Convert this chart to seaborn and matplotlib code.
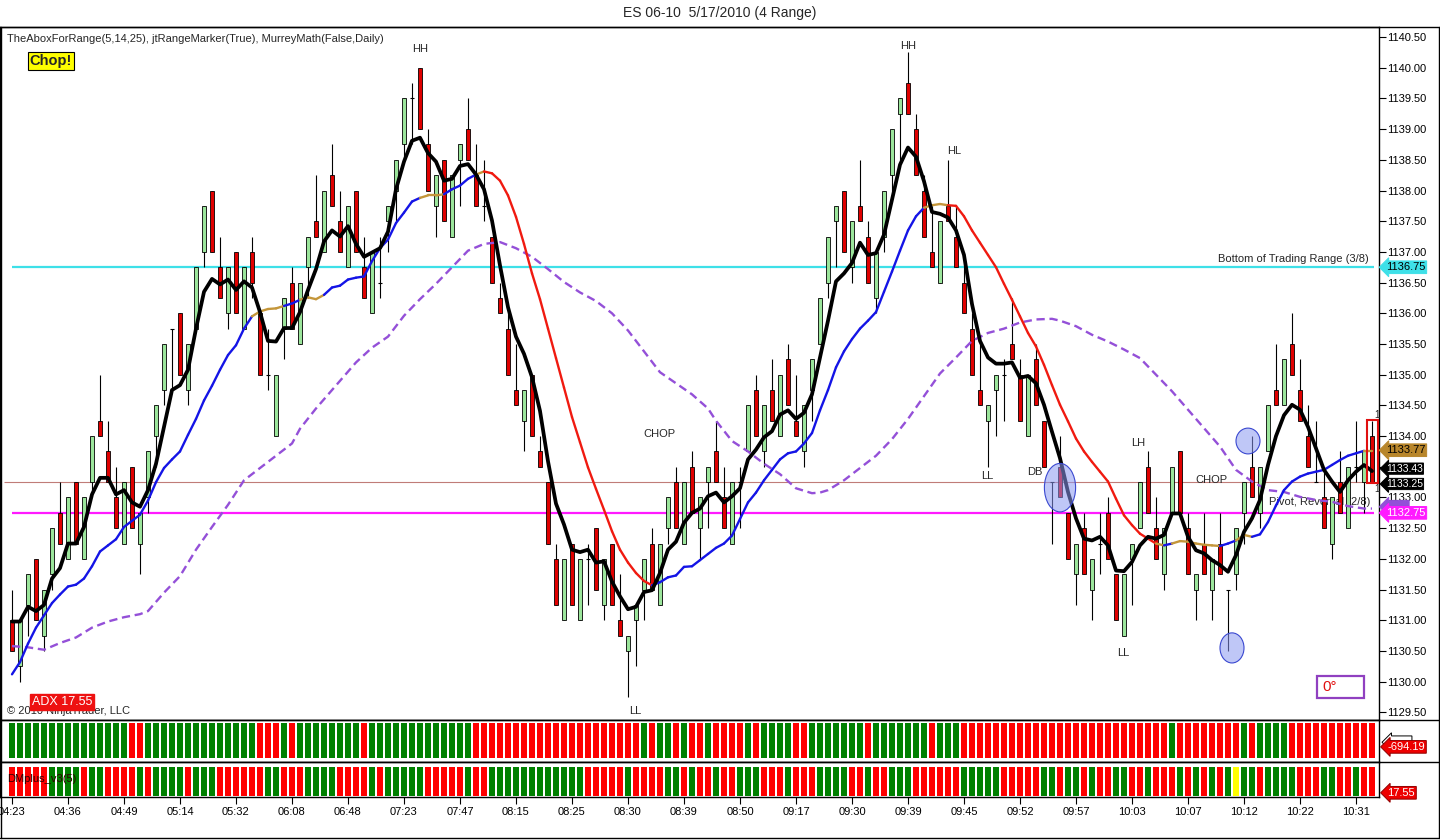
import numpy as np
import pandas as pd
import matplotlib
matplotlib.use("Agg")
import matplotlib.pyplot as plt
import seaborn as sns
from matplotlib.patches import Ellipse, Rectangle
from matplotlib.lines import Line2D
from matplotlib.ticker import FuncFormatter

W, H = 1440, 840

# ---- values (one entry per 4-range bar) ----
time_labels = ["04:23", "04:36", "04:49", "05:14", "05:32", "06:08", "06:48", "07:23",
               "07:47", "08:15", "08:25", "08:30", "08:39", "08:50", "09:17", "09:30",
               "09:39", "09:45", "09:52", "09:57", "10:03", "10:07", "10:12", "10:22", "10:31"]

opens = [
    1131.0, 1130.25, 1131.25, 1132.0, 1130.75, 1131.75, 1132.75, 1132.0, 1133.25, 1132.0,
    1133.25, 1134.25, 1133.75, 1133.0, 1132.25, 1133.5, 1132.25, 1133.0, 1134.0, 1134.75,
    1135.75, 1136.0, 1134.75, 1135.75, 1137.0, 1138.0, 1136.75, 1136.0, 1137.0, 1135.75,
    1137.0, 1136.0, 1135.0, 1134.0, 1135.75, 1136.5, 1135.5, 1136.75, 1137.5, 1137.0,
    1138.25, 1137.5, 1136.75, 1138.0, 1136.75, 1136.0, 1136.5, 1137.5, 1138.0, 1138.75,
    1139.5, 1140.0, 1138.75, 1137.75, 1138.5, 1137.25, 1138.5, 1139.0, 1138.25, 1137.75,
    1137.25, 1136.25, 1135.75, 1134.75, 1134.25, 1135.0, 1133.75, 1133.25, 1132.0, 1131.0,
    1132.25, 1131.0, 1132.0, 1132.5, 1131.25, 1132.25, 1131.0, 1130.5, 1131.0, 1131.5,
    1132.25, 1131.25, 1132.5, 1133.25, 1132.25, 1133.5, 1132.5, 1133.25, 1133.75, 1133.0,
    1132.25, 1133.25, 1133.75, 1134.75, 1133.75, 1134.75, 1134.0, 1135.25, 1134.25, 1133.75,
    1134.75, 1135.5, 1136.5, 1137.5, 1138.0, 1136.75, 1137.75, 1137.25, 1136.25, 1137.25,
    1138.25, 1139.25, 1139.75, 1139.0, 1138.0, 1137.0, 1136.5, 1137.75, 1137.25, 1136.5,
    1135.75, 1134.75, 1134.25, 1134.75, 1135.0, 1135.5, 1135.0, 1134.0, 1135.25, 1134.25,
    1133.25, 1133.5, 1132.75, 1131.75, 1132.5, 1131.5, 1132.25, 1132.75, 1131.75, 1130.75,
    1132.0, 1132.5, 1133.5, 1132.5, 1131.75, 1132.75, 1133.75, 1132.5, 1131.5, 1132.25,
    1131.5, 1132.25, 1131.5, 1131.75, 1132.75, 1133.5, 1132.75, 1133.75, 1134.75, 1134.5,
    1135.5, 1134.75, 1134.0, 1133.25, 1133.0, 1132.25, 1133.25, 1132.5, 1133.5, 1133.25,
    1134.0]
highs = [
    1131.5, 1131.0, 1131.75, 1132.0, 1131.5, 1132.5, 1133.25, 1133.0, 1133.25, 1133.0,
    1134.0, 1135.0, 1134.25, 1133.5, 1133.25, 1133.5, 1132.75, 1133.75, 1134.5, 1135.5,
    1135.75, 1136.0, 1135.5, 1136.75, 1137.75, 1138.0, 1137.25, 1136.75, 1137.0, 1136.75,
    1137.25, 1136.0, 1135.75, 1135.0, 1136.25, 1136.75, 1136.5, 1137.25, 1138.25, 1138.0,
    1138.75, 1138.0, 1137.75, 1138.0, 1137.25, 1137.0, 1137.25, 1137.75, 1138.5, 1139.5,
    1139.75, 1140.0, 1139.0, 1138.25, 1138.5, 1138.25, 1138.75, 1139.5, 1138.75, 1138.5,
    1137.25, 1136.5, 1136.0, 1135.5, 1134.75, 1135.0, 1134.0, 1133.25, 1132.25, 1132.0,
    1132.25, 1132.0, 1132.25, 1132.5, 1132.0, 1132.25, 1131.75, 1130.75, 1131.25, 1132.0,
    1132.5, 1132.25, 1133.0, 1133.5, 1133.25, 1133.75, 1133.0, 1133.5, 1134.25, 1133.5,
    1133.25, 1133.5, 1134.5, 1135.0, 1134.5, 1135.25, 1135.0, 1135.5, 1135.0, 1134.5,
    1135.25, 1136.25, 1137.25, 1137.75, 1138.0, 1137.5, 1138.5, 1137.5, 1137.0, 1138.0,
    1139.0, 1139.5, 1140.25, 1139.25, 1138.25, 1137.75, 1137.5, 1138.5, 1137.75, 1137.0,
    1136.0, 1135.5, 1134.5, 1135.0, 1135.25, 1136.25, 1135.25, 1135.0, 1135.5, 1134.25,
    1133.25, 1134.0, 1132.75, 1132.25, 1132.75, 1132.0, 1132.75, 1133.0, 1131.75, 1131.75,
    1132.25, 1133.25, 1133.75, 1133.0, 1132.5, 1133.5, 1133.75, 1132.75, 1131.75, 1132.75,
    1132.0, 1132.75, 1131.5, 1132.5, 1133.25, 1134.0, 1133.5, 1134.5, 1135.5, 1135.25,
    1136.0, 1135.25, 1134.5, 1134.25, 1133.5, 1133.0, 1133.75, 1133.5, 1134.25, 1133.75,
    1134.25]
lows = [
    1130.5, 1130.0, 1130.75, 1131.0, 1130.5, 1131.5, 1132.25, 1132.0, 1132.25, 1132.0,
    1133.0, 1134.0, 1133.25, 1132.5, 1132.25, 1132.5, 1131.75, 1132.75, 1133.5, 1134.5,
    1134.75, 1135.0, 1134.5, 1135.75, 1136.75, 1137.0, 1136.25, 1135.75, 1136.0, 1135.75,
    1136.25, 1135.0, 1134.75, 1134.0, 1135.25, 1135.75, 1135.5, 1136.25, 1137.25, 1137.0,
    1137.75, 1137.0, 1136.75, 1137.0, 1136.25, 1136.0, 1136.25, 1137.0, 1137.5, 1138.5,
    1138.75, 1139.0, 1138.0, 1137.25, 1137.5, 1137.25, 1137.75, 1138.5, 1137.75, 1137.5,
    1136.5, 1136.0, 1135.0, 1134.5, 1133.75, 1134.0, 1133.5, 1132.25, 1131.25, 1131.0,
    1131.25, 1131.0, 1131.25, 1131.5, 1131.0, 1131.25, 1130.75, 1129.75, 1130.25, 1131.0,
    1131.5, 1131.25, 1132.25, 1132.5, 1132.25, 1132.75, 1132.0, 1132.5, 1133.25, 1132.5,
    1132.25, 1132.5, 1133.75, 1134.0, 1133.5, 1134.25, 1134.0, 1134.5, 1134.0, 1133.5,
    1134.25, 1135.5, 1136.25, 1136.75, 1137.0, 1136.5, 1137.5, 1136.5, 1136.0, 1137.0,
    1138.0, 1138.5, 1139.25, 1138.25, 1137.25, 1136.75, 1136.5, 1137.5, 1136.75, 1136.0,
    1135.0, 1134.5, 1133.5, 1134.0, 1134.25, 1135.25, 1134.25, 1134.0, 1134.5, 1133.5,
    1132.25, 1133.0, 1132.0, 1131.25, 1131.75, 1131.0, 1131.75, 1132.0, 1131.0, 1130.75,
    1131.25, 1132.5, 1132.75, 1132.0, 1131.5, 1132.75, 1132.75, 1131.75, 1131.0, 1131.75,
    1131.0, 1131.75, 1130.5, 1131.5, 1132.25, 1133.0, 1132.5, 1133.75, 1134.5, 1134.5,
    1135.0, 1134.25, 1133.5, 1133.25, 1132.5, 1132.0, 1132.75, 1132.5, 1133.25, 1132.75,
    1133.25]
closes = [
    1130.5, 1131.0, 1131.75, 1131.0, 1131.5, 1132.5, 1132.25, 1133.0, 1132.25, 1133.0,
    1134.0, 1134.0, 1133.25, 1132.5, 1133.25, 1132.5, 1132.75, 1133.75, 1134.5, 1135.5,
    1135.75, 1135.0, 1135.5, 1136.75, 1137.75, 1137.0, 1136.25, 1136.75, 1136.0, 1136.75,
    1136.5, 1135.0, 1135.0, 1135.0, 1136.25, 1135.75, 1136.5, 1137.25, 1137.25, 1138.0,
    1137.75, 1137.0, 1137.75, 1137.0, 1136.25, 1137.0, 1136.5, 1137.75, 1138.5, 1139.5,
    1139.5, 1139.0, 1138.0, 1138.25, 1137.5, 1138.25, 1138.75, 1138.5, 1137.75, 1137.75,
    1136.5, 1136.0, 1135.0, 1134.5, 1134.75, 1134.0, 1133.5, 1132.25, 1131.25, 1132.0,
    1131.25, 1132.0, 1132.0, 1131.5, 1132.0, 1131.25, 1130.75, 1130.75, 1131.25, 1132.0,
    1131.5, 1132.25, 1133.0, 1132.5, 1133.25, 1132.75, 1133.0, 1133.5, 1133.25, 1132.5,
    1133.25, 1133.25, 1134.5, 1134.0, 1134.5, 1134.25, 1135.0, 1134.5, 1134.0, 1134.5,
    1135.25, 1136.25, 1137.25, 1137.75, 1137.0, 1137.5, 1137.5, 1136.5, 1137.0, 1138.0,
    1139.0, 1139.5, 1139.25, 1138.25, 1137.25, 1136.75, 1137.5, 1137.5, 1136.75, 1136.0,
    1135.0, 1134.5, 1134.5, 1135.0, 1135.0, 1135.25, 1134.25, 1135.0, 1134.5, 1133.5,
    1133.25, 1133.0, 1132.0, 1132.25, 1131.75, 1132.0, 1132.25, 1132.0, 1131.0, 1131.75,
    1132.25, 1133.25, 1132.75, 1132.0, 1132.5, 1133.5, 1132.75, 1131.75, 1131.75, 1131.75,
    1132.0, 1131.75, 1131.5, 1132.5, 1133.25, 1133.0, 1133.5, 1134.5, 1134.5, 1135.25,
    1135.0, 1134.25, 1133.5, 1133.25, 1132.5, 1133.0, 1132.75, 1133.5, 1133.5, 1133.75,
    1133.25]

# fast average (thick black)
fast_ma = [
    1130.98, 1130.98, 1131.22, 1131.15, 1131.25, 1131.68, 1131.85, 1132.25, 1132.25, 1132.52,
    1133.05, 1133.32, 1133.32, 1133.05, 1133.12, 1132.92, 1132.85, 1133.12, 1133.55, 1134.15,
    1134.75, 1134.83, 1135.08, 1135.75, 1136.35, 1136.56, 1136.47, 1136.55, 1136.38, 1136.52,
    1136.42, 1136.02, 1135.55, 1135.54, 1135.76, 1135.76, 1136.02, 1136.38, 1136.72, 1137.17,
    1137.35, 1137.25, 1137.42, 1137.13, 1136.92, 1136.99, 1137.06, 1137.33, 1138.02, 1138.47,
    1138.81, 1138.86, 1138.61, 1138.47, 1138.16, 1138.19, 1138.40, 1138.43, 1138.26, 1138.02,
    1137.51, 1136.78, 1136.10, 1135.62, 1135.34, 1134.96, 1134.41, 1133.59, 1132.90, 1132.56,
    1132.15, 1132.11, 1132.15, 1131.94, 1131.96, 1131.63, 1131.39, 1131.18, 1131.22, 1131.46,
    1131.49, 1131.77, 1132.15, 1132.28, 1132.59, 1132.75, 1132.82, 1133.02, 1133.08, 1132.92,
    1133.02, 1133.15, 1133.62, 1133.78, 1133.98, 1134.08, 1134.35, 1134.42, 1134.28, 1134.38,
    1134.68, 1135.28, 1135.88, 1136.52, 1136.65, 1136.82, 1137.15, 1136.95, 1136.98, 1137.28,
    1137.85, 1138.42, 1138.70, 1138.55, 1138.15, 1137.65, 1137.62, 1137.56, 1137.35, 1136.95,
    1136.15, 1135.55, 1135.28, 1135.18, 1135.18, 1135.20, 1134.95, 1134.98, 1134.86, 1134.51,
    1134.07, 1133.64, 1133.09, 1132.66, 1132.33, 1132.30, 1132.36, 1132.22, 1131.81, 1131.80,
    1131.95, 1132.22, 1132.36, 1132.33, 1132.39, 1132.74, 1132.74, 1132.36, 1132.14, 1132.09,
    1131.98, 1131.90, 1131.79, 1132.06, 1132.44, 1132.66, 1132.96, 1133.53, 1134.00, 1134.34,
    1134.51, 1134.43, 1134.15, 1133.80, 1133.45, 1133.26, 1133.09, 1133.28, 1133.42, 1133.53,
    1133.43]

# medium average (blue rising / red falling / tan flat)
mid_ma = [
    1130.12, 1130.32, 1130.62, 1130.88, 1131.08, 1131.28, 1131.42, 1131.55, 1131.58, 1131.68,
    1131.88, 1132.12, 1132.22, 1132.32, 1132.52, 1132.62, 1132.72, 1132.95, 1133.25, 1133.48,
    1133.62, 1133.75, 1134.02, 1134.28, 1134.58, 1134.82, 1135.08, 1135.32, 1135.48, 1135.75,
    1135.95, 1136.03, 1136.07, 1136.08, 1136.12, 1136.16, 1136.22, 1136.26, 1136.23, 1136.30,
    1136.42, 1136.45, 1136.55, 1136.58, 1136.60, 1136.85, 1137.06, 1137.20, 1137.47, 1137.64,
    1137.82, 1137.88, 1137.92, 1137.92, 1137.94, 1138.02, 1138.08, 1138.19, 1138.26, 1138.31,
    1138.28, 1138.16, 1137.92, 1137.57, 1137.13, 1136.65, 1136.23, 1135.75, 1135.27, 1134.79,
    1134.31, 1133.90, 1133.49, 1133.14, 1132.80, 1132.45, 1132.15, 1131.94, 1131.77, 1131.64,
    1131.57, 1131.62, 1131.70, 1131.73, 1131.87, 1131.88, 1131.98, 1132.08, 1132.18, 1132.25,
    1132.38, 1132.65, 1132.92, 1133.08, 1133.28, 1133.45, 1133.62, 1133.72, 1133.75, 1133.88,
    1134.05, 1134.42, 1134.75, 1135.12, 1135.38, 1135.58, 1135.75, 1135.88, 1136.02, 1136.35,
    1136.68, 1137.02, 1137.35, 1137.58, 1137.72, 1137.76, 1137.78, 1137.76, 1137.75, 1137.58,
    1137.35, 1137.15, 1136.95, 1136.75, 1136.48, 1136.22, 1135.95, 1135.68, 1135.46, 1135.16,
    1134.83, 1134.51, 1134.24, 1133.96, 1133.75, 1133.58, 1133.42, 1133.26, 1132.98, 1132.71,
    1132.55, 1132.41, 1132.33, 1132.25, 1132.22, 1132.25, 1132.29, 1132.28, 1132.25, 1132.23,
    1132.22, 1132.21, 1132.25, 1132.30, 1132.39, 1132.36, 1132.40, 1132.60, 1132.87, 1133.12,
    1133.26, 1133.34, 1133.39, 1133.42, 1133.45, 1133.53, 1133.61, 1133.68, 1133.72, 1133.76,
    1133.76]
mid_ma_runs = [("B", 31), ("O", 4), ("B", 2), ("O", 3), ("B", 12), ("O", 3), ("B", 4), ("O", 1),
               ("R", 21), ("B", 34), ("O", 3), ("R", 26), ("O", 1), ("B", 1), ("O", 6), ("B", 2),
               ("O", 2), ("B", 14), ("O", 1)]

# slow average (purple dashed), read at these bars
slow_bars = [0, 2, 4, 6, 8, 10, 12, 14, 16, 17, 19, 21, 23, 25, 27, 28, 29, 30, 32, 34, 35, 36,
             38, 40, 42, 43, 45, 47, 49, 51, 53, 55, 57, 59, 61, 63, 65, 67, 69, 71, 73, 75, 77,
             79, 81, 83, 85, 87, 88, 90, 92, 94, 96, 98, 100, 101, 102, 104, 106, 108, 110, 112,
             114, 116, 118, 120, 122, 124, 126, 128, 130, 131, 133, 135, 137, 139, 141, 143, 145,
             147, 149, 151, 152, 153, 155, 157, 159, 161, 163, 165, 167, 169, 170]
slow_ma = [1130.58, 1130.56, 1130.52, 1130.63, 1130.72, 1130.88, 1130.98, 1131.05, 1131.10,
           1131.15, 1131.45, 1131.72, 1132.15, 1132.52, 1132.88, 1133.08, 1133.28, 1133.38,
           1133.58, 1133.78, 1133.88, 1134.12, 1134.45, 1134.75, 1135.05, 1135.20, 1135.44,
           1135.62, 1135.96, 1136.23, 1136.48, 1136.75, 1137.02, 1137.13, 1137.16, 1137.06,
           1136.92, 1136.72, 1136.51, 1136.34, 1136.20, 1136.00, 1135.72, 1135.38, 1135.04,
           1134.86, 1134.68, 1134.45, 1134.25, 1133.92, 1133.75, 1133.55, 1133.38, 1133.15,
           1133.07, 1133.08, 1133.12, 1133.28, 1133.48, 1133.68, 1133.95, 1134.28, 1134.65,
           1135.02, 1135.28, 1135.55, 1135.68, 1135.75, 1135.85, 1135.90, 1135.91, 1135.88,
           1135.79, 1135.65, 1135.54, 1135.41, 1135.27, 1135.00, 1134.73, 1134.43, 1134.13,
           1133.83, 1133.64, 1133.45, 1133.26, 1133.12, 1133.09, 1133.01, 1132.96, 1132.93,
           1132.86, 1132.82, 1132.82]

# colour strips under the price pane (G green, R red, Y yellow)
top_strip_runs = [("G", 15), ("R", 2), ("G", 14), ("R", 3), ("G", 1), ("R", 1), ("G", 8), ("R", 1),
                  ("G", 13), ("R", 21), ("G", 1), ("R", 1), ("G", 2), ("R", 1), ("G", 1), ("R", 2),
                  ("G", 1), ("R", 4), ("G", 1), ("R", 1), ("G", 4), ("R", 2), ("G", 7), ("R", 1),
                  ("G", 7), ("R", 1), ("G", 3), ("R", 26), ("G", 1), ("R", 8), ("G", 1), ("R", 1),
                  ("G", 4), ("R", 11)]
bottom_strip_runs = [("R", 5), ("G", 4), ("R", 1), ("G", 2), ("R", 4), ("G", 1), ("R", 1), ("G", 4),
                     ("R", 1), ("G", 3), ("R", 6), ("G", 2), ("R", 3), ("G", 4), ("R", 4), ("G", 1),
                     ("R", 1), ("G", 5), ("R", 5), ("G", 1), ("R", 2), ("G", 12), ("R", 5), ("G", 1),
                     ("R", 4), ("G", 2), ("R", 1), ("G", 1), ("R", 2), ("G", 1), ("R", 2), ("G", 3),
                     ("R", 3), ("G", 1), ("R", 3), ("G", 4), ("R", 2), ("G", 1), ("R", 2), ("G", 3),
                     ("R", 6), ("G", 5), ("R", 5), ("G", 2), ("R", 1), ("G", 2), ("R", 1), ("G", 1),
                     ("R", 2), ("G", 2), ("R", 2), ("G", 1), ("R", 3), ("G", 1), ("R", 1), ("G", 1),
                     ("R", 1), ("G", 1), ("R", 1), ("G", 1), ("Y", 1), ("G", 2), ("R", 1), ("G", 4),
                     ("R", 3), ("G", 2), ("R", 2), ("G", 1), ("R", 2)]

trading_range_bottom = 1136.75
pivot_level = 1132.75
last_close = 1133.25
hidden_tick = 1133.5   # tick label covered by the value tags in the original


def expand(runs):
    out = []
    for code, n in runs:
        out += [code] * n
    return out


def px_rect(x0, y0, x1, y1):
    return [x0 / W, 1 - y1 / H, (x1 - x0) / W, (y1 - y0) / H]


def fig_text(x, y, s, **kw):
    return fig.text(x / W, 1 - y / H, s, **kw)


def price_tag(axis, y, text, fc, tc, ec=None, transform=None, dx=5, size=8, pad=0.12):
    axis.annotate(text, xy=(1, y), xycoords=transform or axis.get_yaxis_transform(),
                  xytext=(dx, 0), textcoords="offset points", ha="left", va="center",
                  fontsize=size, color=tc, annotation_clip=False, zorder=20,
                  bbox=dict(boxstyle=f"larrow,pad={pad}", fc=fc, ec=ec or fc, lw=0.7))


sns.set_theme(style="white")
plt.rcParams["font.family"] = ["Liberation Sans", "DejaVu Sans"]

n = len(closes)
assert len(opens) == n and len(highs) == n and len(lows) == n
assert len(fast_ma) == n and len(mid_ma) == n and len(slow_bars) == len(slow_ma)
bars = np.arange(n)
o, h, l, c = map(np.array, (opens, highs, lows, closes))

fig = plt.figure(figsize=(W / 100, H / 100), dpi=100)
ax = fig.add_axes(px_rect(0, 27, 1379, 720))
ax1 = fig.add_axes(px_rect(0, 720, 1379, 762))
ax2 = fig.add_axes(px_rect(0, 762, 1379, 797))

# ---- price pane ----
ax.hlines(trading_range_bottom, 0, n - 0.7, color="#3EE0E8", lw=1.6, zorder=1)
ax.hlines(pivot_level, 0, n - 0.7, color="#FF1AFF", lw=1.6, zorder=1)
ax.hlines(last_close, -1, n - 0.7, color="#C07C78", lw=0.8, zorder=1)

ax.text(169.6, 1136.88, "Bottom of Trading Range (3/8)", ha="right", va="center", fontsize=8, zorder=1)
ax.text(169.8, 1132.92, "Pivot, Reversal (2/8)", ha="right", va="center", fontsize=8, zorder=1)

up, down, flat = c > o, c < o, c == o
ax.vlines(bars, l, h, color="black", lw=0.8, zorder=2)
ax.bar(bars[up], (c - o)[up], bottom=o[up], width=0.62, color="#9BE59B",
       edgecolor="black", linewidth=0.6, zorder=3)
ax.bar(bars[down], (o - c)[down], bottom=c[down], width=0.62, color="#E00000",
       edgecolor="black", linewidth=0.6, zorder=3)
ax.hlines(o[flat], bars[flat] - 0.3, bars[flat] + 0.3, color="black", lw=0.8, zorder=3)

ax.plot(slow_bars, slow_ma, color="#9450D8", lw=1.7, dashes=(3.5, 2), zorder=4)

mid_colors = {"B": "#1414E6", "R": "#F01A10", "O": "#C4963A"}
codes = expand(mid_ma_runs)
for i in range(1, n):
    ax.plot([i - 1, i], [mid_ma[i - 1], mid_ma[i]], color=mid_colors[codes[i]],
            lw=1.7, solid_capstyle="round", zorder=5)

ma_df = pd.DataFrame({"bar": bars, "fast": fast_ma})
sns.lineplot(data=ma_df, x="bar", y="fast", ax=ax, color="black", lw=2.7, zorder=6)

# swing labels
for xb, yp, s in [(51, 1140.3, "HH"), (112, 1140.36, "HH"), (117.75, 1138.64, "HL"),
                  (77.9, 1129.53, "LL"), (80.9, 1134.03, "CHOP"), (121.9, 1133.35, "LL"),
                  (127.9, 1133.42, "DB"), (140.75, 1133.89, "LH"), (149.9, 1133.29, "CHOP"),
                  (138.9, 1130.47, "LL")]:
    ax.text(xb, yp, s, ha="center", va="center", fontsize=8, zorder=7)

ell_kw = dict(fc=(0.55, 0.6, 0.95, 0.55), ec="#3A48D0", lw=0.8, zorder=8)
ax.add_patch(Ellipse((131, 1133.16), 3.9, 0.79, **ell_kw))
ax.add_patch(Ellipse((154.5, 1133.92), 3.0, 0.42, **ell_kw))
ax.add_patch(Ellipse((152.5, 1130.55), 3.0, 0.49, **ell_kw))
ax.add_patch(Rectangle((169.4, 1133.24), 1.3, 1.02, fill=False, ec="#E01010", lw=1.5, zorder=8))
ax.text(170.6, 1134.35, "1", fontsize=7, ha="center", va="center", zorder=8)
ax.text(170.6, 1133.14, "1", fontsize=7, ha="center", va="center", zorder=8)

ax.set_xlim(-1.5, 170.875)
ax.set_ylim(1129.376, 1140.663)
ax.set_xlabel("")
ax.set_ylabel("")
ax.yaxis.tick_right()
ax.set_yticks(np.arange(1129.5, 1140.51, 0.5))
ax.yaxis.set_major_formatter(FuncFormatter(
    lambda v, pos: "" if abs(v - hidden_tick) < 1e-6 else f"{v:.2f}"))
ax.tick_params(axis="y", direction="out", length=5, width=0.8, labelsize=8, pad=1,
               colors="black", right=True, left=False)
ax.tick_params(axis="x", bottom=False, labelbottom=False)

# right-hand value tags (the hidden ones behind are drawn as empty boxes)
price_tag(ax, 1136.75, "1136.75", "#3EE0E8", "black")
price_tag(ax, 1133.77, "1133.77", "#B8862B", "black")
price_tag(ax, 1132.85, "       ", "#9450D8", "white")
price_tag(ax, 1132.75, "1132.75", "#FF1AFF", "white")
price_tag(ax, 1133.47, "1133.43", "black", "white", size=7.5, pad=0.06)
price_tag(ax, 1133.22, "1133.25", "black", "white", size=7.5, pad=0.06)

# ---- indicator strips ----
strip_colors = {"G": "#008000", "R": "#FF0000", "Y": "#FFFF00"}
for axis, runs in [(ax1, top_strip_runs), (ax2, bottom_strip_runs)]:
    cols = [strip_colors[k] for k in expand(runs)]
    axis.bar(bars, 1, width=0.8, color=cols, linewidth=0)
    axis.set_xlim(-1.5, 170.875)
    axis.set_yticks([])
ax1.set_ylim(-0.114, 1.086)
ax2.set_ylim(-0.035, 1.17)
ax1.tick_params(axis="x", bottom=False, labelbottom=False)
ax2.set_xticks(np.arange(0, 7 * len(time_labels), 7))
ax2.set_xticklabels(time_labels)
ax2.tick_params(axis="x", direction="out", length=5, width=0.8, labelsize=8, pad=2,
                colors="black", bottom=True)

ax2.text(0.005, 0.5, "DMplus_v3(5)", transform=ax2.transAxes, fontsize=8,
         color="#300000", va="center", ha="left")

price_tag(ax1, 0.47, "       ", "white", "white", ec="black", transform=ax1.transAxes, dx=7)
price_tag(ax1, 0.36, "-694.19", "#EE0000", "white", ec="#900000", transform=ax1.transAxes, dx=6)
price_tag(ax2, 0.12, "17.55", "#EE0000", "white", ec="#900000", transform=ax2.transAxes, dx=6)

for axis in (ax, ax1, ax2):
    axis.set_facecolor("white")
    for sp in axis.spines.values():
        sp.set_color("black")
        sp.set_linewidth(1.0)
        sp.set_visible(True)

# ---- frame lines across the whole window ----
for ypx in (27, 720, 762, 838):
    fig.add_artist(Line2D([0, 1], [1 - ypx / H] * 2, color="black", lw=1,
                          transform=fig.transFigure))
for xpx in (0.5, 1439):
    fig.add_artist(Line2D([xpx / W] * 2, [1 - 27 / H, 1 - 838 / H], color="black", lw=1,
                          transform=fig.transFigure))

# ---- overlay texts ----
fig_text(720, 13, "ES 06-10  5/17/2010 (4 Range)", ha="center", va="center", fontsize=10)
fig_text(7, 39, "TheAboxForRange(5,14,25), jtRangeMarker(True), MurreyMath(False,Daily)",
         ha="left", va="center", fontsize=8)
fig_text(51, 61, "Chop!", ha="center", va="center", fontsize=10.5, fontweight="bold",
         bbox=dict(boxstyle="square,pad=0.15", fc="#FFFF00", ec="black", lw=0.8))
fig_text(7, 711, "\u00a9 2010 NinjaTrader, LLC", ha="left", va="center", fontsize=8)
fig_text(62, 702, "ADX 17.55", ha="center", va="center", fontsize=9, color="white",
         bbox=dict(boxstyle="square,pad=0.15", fc="#EE1111", ec="#EE1111"))
fig.add_artist(Rectangle((1317 / W, 1 - 698 / H), 47 / W, 22 / H, transform=fig.transFigure,
                         fill=False, ec="#9040C0", lw=1.6))
fig_text(1322, 687, "0\u00b0", ha="left", va="center", fontsize=11, color="#E01010")

fig.savefig("out.png", dpi=100, facecolor="white")
